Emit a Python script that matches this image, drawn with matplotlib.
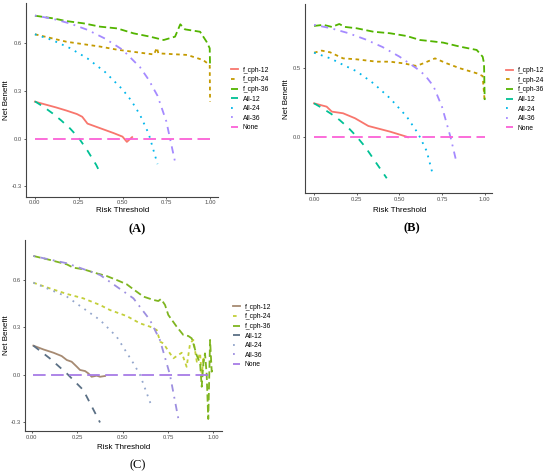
import matplotlib
matplotlib.use('Agg')
import matplotlib.pyplot as plt

plt.rcParams['font.family'] = ['Liberation Sans', 'DejaVu Sans']
plt.rcParams['axes.unicode_minus'] = False

# ---- panel A ----
A_FCPH12_X = [0, 0.06, 0.12, 0.18, 0.24, 0.27, 0.30, 0.35, 0.40, 0.45, 0.50, 0.525, 0.54, 0.555]
A_FCPH12_Y = [0.233, 0.215, 0.197, 0.177, 0.155, 0.138, 0.095, 0.075, 0.055, 0.035, 0.013, -0.02, -0.005, 0.01]
A_FCPH24_X = [0, 0.18, 0.37, 0.47, 0.56, 0.68, 0.696, 0.705, 0.87, 0.96, 0.998, 1.0]
A_FCPH24_Y = [0.657, 0.61, 0.58, 0.56, 0.547, 0.53, 0.572, 0.537, 0.527, 0.495, 0.464, 0.233]
A_FCPH36_X = [0, 0.105, 0.18, 0.277, 0.372, 0.47, 0.563, 0.658, 0.735, 0.80, 0.83, 0.857, 0.943, 0.98, 0.998, 1.0]
A_FCPH36_Y = [0.774, 0.757, 0.74, 0.726, 0.705, 0.694, 0.663, 0.642, 0.621, 0.642, 0.72, 0.688, 0.673, 0.61, 0.569, 0.45]
A_ALL12_X = [0, 0.05, 0.1, 0.15, 0.2, 0.25, 0.3, 0.35, 0.37]
A_ALL12_Y = [0.235, 0.20, 0.16, 0.115, 0.065, 0.005, -0.075, -0.165, -0.21]
A_ALL24_X = [0, 0.1, 0.2, 0.3, 0.4, 0.5, 0.55, 0.6, 0.65, 0.7]
A_ALL24_Y = [0.657, 0.62, 0.57, 0.505, 0.42, 0.31, 0.24, 0.15, 0.03, -0.16]
A_ALL36_X = [0, 0.1, 0.2, 0.3, 0.4, 0.5, 0.6, 0.65, 0.7, 0.75, 0.8]
A_ALL36_Y = [0.775, 0.755, 0.725, 0.685, 0.63, 0.56, 0.45, 0.37, 0.27, 0.11, -0.145]
A_NONE_X = [0, 1]
A_NONE_Y = [0, 0]

# ---- panel B ----
B_FCPH12_X = [0, 0.074, 0.104, 0.17, 0.24, 0.318, 0.445, 0.543, 0.55]
B_FCPH12_Y = [0.246, 0.222, 0.186, 0.174, 0.138, 0.082, 0.041, 0.004, 0.0]
B_FCPH24_X = [0, 0.045, 0.094, 0.17, 0.25, 0.367, 0.445, 0.523, 0.60, 0.64, 0.709, 0.777, 0.855, 0.953, 0.988, 1.0]
B_FCPH24_Y = [0.613, 0.628, 0.616, 0.572, 0.565, 0.548, 0.548, 0.536, 0.517, 0.536, 0.572, 0.536, 0.50, 0.464, 0.444, 0.258]
B_FCPH36_X = [0, 0.055, 0.104, 0.148, 0.18, 0.25, 0.348, 0.445, 0.543, 0.621, 0.66, 0.757, 0.855, 0.953, 0.988, 0.996, 1.0]
B_FCPH36_Y = [0.807, 0.815, 0.80, 0.821, 0.80, 0.79, 0.765, 0.754, 0.734, 0.705, 0.70, 0.686, 0.657, 0.633, 0.584, 0.536, 0.27]
B_ALL12_X = [0, 0.05, 0.1, 0.15, 0.2, 0.25, 0.3, 0.35, 0.4, 0.426]
B_ALL12_Y = [0.246, 0.21, 0.17, 0.125, 0.07, 0.005, -0.07, -0.16, -0.25, -0.297]
B_ALL24_X = [0, 0.1, 0.152, 0.25, 0.348, 0.445, 0.543, 0.6, 0.621, 0.66, 0.695]
B_ALL24_Y = [0.613, 0.57, 0.536, 0.478, 0.391, 0.283, 0.15, 0.045, 0.0, -0.1, -0.266]
B_ALL36_X = [0, 0.1, 0.2, 0.3, 0.4, 0.5, 0.6, 0.65, 0.7, 0.75, 0.8, 0.836]
B_ALL36_Y = [0.815, 0.79, 0.755, 0.71, 0.655, 0.585, 0.50, 0.45, 0.37, 0.22, 0.0, -0.188]
B_NONE_X = [0, 1]
B_NONE_Y = [0, 0]

# ---- panel C ----
C_FCPH12_X = [0.009, 0.064, 0.12, 0.165, 0.193, 0.22, 0.248, 0.266, 0.294, 0.312, 0.33, 0.358, 0.376, 0.404]
C_FCPH12_Y = [0.184, 0.16, 0.139, 0.118, 0.093, 0.082, 0.051, 0.03, 0.023, 0.008, -0.013, -0.006, -0.013, -0.008]
C_FCPH24_X = [0.009, 0.1, 0.193, 0.284, 0.376, 0.431, 0.523, 0.596, 0.651, 0.688, 0.707, 0.725, 0.761,
              0.78, 0.826, 0.853, 0.872, 0.89, 0.909, 0.927, 0.936, 0.945, 0.95]
C_FCPH24_Y = [0.582, 0.546, 0.511, 0.483, 0.441, 0.409, 0.371, 0.325, 0.304, 0.283, 0.209, 0.198, 0.135,
              0.104, 0.139, 0.05, 0.199, 0.22, 0.082, 0.137, -0.013, 0.114, 0.06]
C_FCPH36_X = [0.009, 0.1, 0.193, 0.229, 0.284, 0.358, 0.413, 0.468, 0.523, 0.56, 0.615, 0.67, 0.697, 0.712,
              0.734, 0.752, 0.798, 0.835, 0.862, 0.881, 0.895, 0.908, 0.927, 0.936, 0.945, 0.954, 0.963,
              0.972, 0.982, 0.991, 0.996]
C_FCPH36_Y = [0.751, 0.726, 0.698, 0.677, 0.667, 0.641, 0.624, 0.599, 0.572, 0.54, 0.494, 0.473, 0.466, 0.479,
              0.441, 0.378, 0.304, 0.251, 0.245, 0.23, 0.177, 0.124, 0.072, -0.076, 0.072, 0.135, 0.008,
              -0.28, 0.22, 0.019, 0.05]
C_ALL12_X = [0.009, 0.1, 0.193, 0.284, 0.376]
C_ALL12_Y = [0.184, 0.103, 0.008, -0.097, -0.302]
C_ALL24_X = [0.009, 0.193, 0.376, 0.468, 0.56, 0.596, 0.661]
C_ALL24_Y = [0.582, 0.494, 0.346, 0.24, 0.072, 0.0, -0.203]
C_ALL36_X = [0.009, 0.193, 0.376, 0.56, 0.651, 0.706, 0.743, 0.761, 0.807]
C_ALL36_Y = [0.751, 0.705, 0.631, 0.483, 0.346, 0.219, 0.072, 0.0, -0.276]
C_NONE_X = [0.009, 1]
C_NONE_Y = [0, 0]

LABELS = ['f_cph-12', 'f_cph-24', 'f_cph-36', 'All-12', 'All-24', 'All-36', 'None']
HUE = ['#F8766D', '#C49A00', '#53B400', '#00C094', '#00B6EB', '#A58AFF', '#FB61D7']
C_COLORS = ['#A68A72', '#C3CF3A', '#7FB520', '#5B7085', '#93A6CC', '#9D8FE0', '#A77CE6']
DASHES = [None, (2, 2), (4, 2), (4, 4), (1, 3), (1, 3, 4, 3), (7, 3)]

W, H = 550, 473
fig = plt.figure(figsize=(5.5, 4.73), dpi=100)


def px_axes(left, right, top, bottom):
    return fig.add_axes([left / W, 1 - bottom / H, (right - left) / W, (bottom - top) / H])


def draw_panel(ax, series, colors, xlim, ylim, yticks, leg_x, leg_y):
    for (x, y), lab, col, d in zip(series, LABELS, colors, DASHES):
        line, = ax.plot(x, y, color=col, lw=1.3, label=lab)
        if d is not None:
            line.set_dashes(d)
    ax.set_xlim(*xlim)
    ax.set_ylim(*ylim)
    ax.set_xticks([0, 0.25, 0.5, 0.75, 1.0])
    ax.set_xticklabels(['0.00', '0.25', '0.50', '0.75', '1.00'])
    ax.set_yticks(yticks)
    ax.set_yticklabels(['%.1f' % v for v in yticks])
    for s in ['top', 'right']:
        ax.spines[s].set_visible(False)
    for s in ['left', 'bottom']:
        ax.spines[s].set_color('#444444')
        ax.spines[s].set_linewidth(0.8)
    ax.tick_params(length=1.5, width=0.6, color='#444444', labelsize=4.2,
                   labelcolor='#4d4d4d', pad=1.2)
    ax.legend(loc='center left', bbox_to_anchor=(leg_x / W, 1 - leg_y / H),
              bbox_transform=fig.transFigure, frameon=False, fontsize=4.9,
              handlelength=1.1, handletextpad=0.6, labelspacing=0.38,
              borderpad=0, borderaxespad=0)


axA = px_axes(26, 218.3, 3.3, 196.7)
draw_panel(axA, [(A_FCPH12_X, A_FCPH12_Y), (A_FCPH24_X, A_FCPH24_Y), (A_FCPH36_X, A_FCPH36_Y),
                 (A_ALL12_X, A_ALL12_Y), (A_ALL24_X, A_ALL24_Y), (A_ALL36_X, A_ALL36_Y),
                 (A_NONE_X, A_NONE_Y)],
           HUE, (-0.051, 1.047), (-0.365, 0.852), [-0.3, 0.0, 0.3, 0.6], 231, 99)

axB = px_axes(305, 491.7, 4, 193.3)
draw_panel(axB, [(B_FCPH12_X, B_FCPH12_Y), (B_FCPH24_X, B_FCPH24_Y), (B_FCPH36_X, B_FCPH36_Y),
                 (B_ALL12_X, B_ALL12_Y), (B_ALL24_X, B_ALL24_Y), (B_ALL36_X, B_ALL36_Y),
                 (B_NONE_X, B_NONE_Y)],
           HUE, (-0.053, 1.041), (-0.406, 0.966), [0.0, 0.5], 506, 99.5)

axC = px_axes(25, 221.7, 240, 431)
draw_panel(axC, [(C_FCPH12_X, C_FCPH12_Y), (C_FCPH24_X, C_FCPH24_Y), (C_FCPH36_X, C_FCPH36_Y),
                 (C_ALL12_X, C_ALL12_Y), (C_ALL24_X, C_ALL24_Y), (C_ALL36_X, C_ALL36_Y),
                 (C_NONE_X, C_NONE_Y)],
           C_COLORS, (-0.037, 1.046), (-0.356, 0.852), [-0.3, 0.0, 0.3, 0.6], 233, 336)


def ftext(x, y, s, **kw):
    fig.text(x / W, 1 - y / H, s, ha='center', va='center', **kw)


ftext(6, 100, 'Net Benefit', rotation=90, fontsize=5.8)
ftext(286, 99, 'Net Benefit', rotation=90, fontsize=5.8)
ftext(6, 335, 'Net Benefit', rotation=90, fontsize=5.8)
ftext(122.5, 211, 'Risk Threshold', fontsize=5.8)
ftext(399.3, 211, 'Risk Threshold', fontsize=5.8)
ftext(123.7, 447, 'Risk Threshold', fontsize=5.8)
ftext(137, 229, '(A)', fontsize=9, fontweight='bold', family='Liberation Serif')
ftext(412, 228, '(B)', fontsize=9, fontweight='bold', family='Liberation Serif')
ftext(138, 465, '(C)', fontsize=9, family='Liberation Serif')

fig.savefig('out.png', dpi=100)
